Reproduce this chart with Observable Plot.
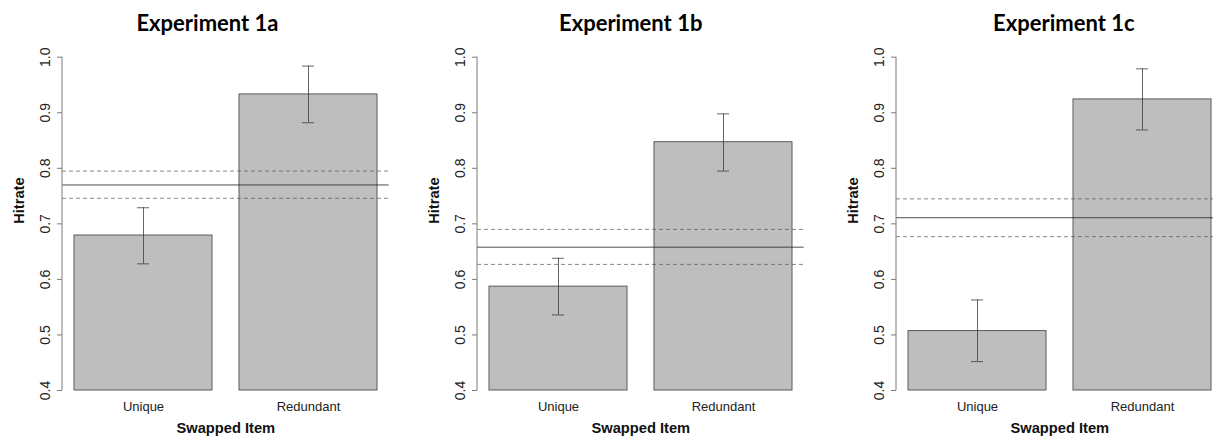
<!DOCTYPE html>
<html>
<head>
<meta charset="utf-8">
<script src="https://cdn.jsdelivr.net/npm/d3@7"></script>
<script src="https://cdn.jsdelivr.net/npm/@observablehq/plot@0.6"></script>
<style>
  html, body { margin: 0; padding: 0; background: #fff; }
  #wrap { position: relative; width: 1213px; height: 437px; overflow: hidden; background: #fff; }
  #wrap svg { position: absolute; top: 0; }
  #wrap svg g[aria-label="y-axis tick label"] text { font-size: 14px; }
  #wrap svg g[aria-label="x-axis tick label"] text { font-size: 13px; }
  .title { position: absolute; top: 9px; transform: translateX(-50%); font-family: Lato, "Open Sans", sans-serif; font-weight: 700; font-size: 22px; color: #000; white-space: nowrap; }
</style>
</head>
<body>
<div id="wrap"></div>
<script>
// ---- data ----
const experiments = ["Experiment 1a", "Experiment 1b", "Experiment 1c"];
const categories = ["Unique", "Redundant"];
const hitrateMean = [[0.679, 0.933], [0.587, 0.847], [0.507, 0.924]];
const hitrateLow  = [[0.628, 0.882], [0.536, 0.795], [0.452, 0.869]];
const hitrateHigh = [[0.729, 0.984], [0.638, 0.898], [0.563, 0.979]];
const referenceMean = [0.770, 0.658, 0.711];
const referenceLow  = [0.746, 0.627, 0.677];
const referenceHigh = [0.795, 0.690, 0.745];
const yTicks = [0.4, 0.5, 0.6, 0.7, 0.8, 0.9, 1.0];
const yLabel = "Hitrate";
const xLabel = "Swapped Item";

// ---- layout ----
const axisX = [61.7, 476.7, 896.3];
const titleX = [207.5, 630.7, 1063.8];
const plotW = 326.6;
const mLeft = 70, svgW = 440, H = 437, mTop = 56.7, mBottom = 47;
const padInner = 0.163, padOuter = 0.07;
const step = plotW / (categories.length - padInner + 2 * padOuter);
const bw = step * (1 - padInner);
const capW = 12.3;
const capInset = (bw - capW) / 2;

const wrap = document.getElementById("wrap");

experiments.forEach((name, p) => {
  const rows = categories.map((c, i) => ({
    cat: c, value: hitrateMean[p][i], lo: hitrateLow[p][i], hi: hitrateHigh[p][i]
  }));
  const yMin = yTicks[0], yMax = yTicks[yTicks.length - 1];
  const axisLine = (index, scales, values, dims) => {
    const l = document.createElementNS("http://www.w3.org/2000/svg", "line");
    l.setAttribute("x1", dims.marginLeft); l.setAttribute("x2", dims.marginLeft);
    l.setAttribute("y1", scales.y(yMin)); l.setAttribute("y2", scales.y(yMax));
    l.setAttribute("stroke", "#7a7a7a"); l.setAttribute("stroke-width", 1);
    return l;
  };
  const chart = Plot.plot({
    width: svgW, height: H,
    marginLeft: mLeft, marginRight: svgW - mLeft - plotW,
    marginTop: mTop, marginBottom: mBottom,
    style: { fontFamily: "'Liberation Sans', Arial, sans-serif", fontSize: "13px", background: "none", overflow: "visible", color: "#222" },
    x: { type: "band", domain: categories, paddingInner: padInner, paddingOuter: padOuter, align: 0.5, axis: null },
    y: { domain: [yMin, yMax], axis: null },
    marks: [
      Plot.barY(rows, { x: "cat", y1: () => yMin, y2: "value", fill: "#bebebe", stroke: "#5a5a5a", strokeWidth: 1 }),
      Plot.ruleY([referenceLow[p], referenceHigh[p]], { stroke: "#555", strokeOpacity: 0.7, strokeDasharray: "4,3", strokeWidth: 1 }),
      Plot.ruleY([referenceMean[p]], { stroke: "#222", strokeOpacity: 0.8, strokeWidth: 1 }),
      Plot.ruleX(rows, { x: "cat", y1: "lo", y2: "hi", stroke: "#333", strokeOpacity: 0.75, strokeWidth: 1 }),
      Plot.tickY(rows, { x: "cat", y: "lo", insetLeft: capInset, insetRight: capInset, stroke: "#333", strokeOpacity: 0.75 }),
      Plot.tickY(rows, { x: "cat", y: "hi", insetLeft: capInset, insetRight: capInset, stroke: "#333", strokeOpacity: 0.75 }),
      axisLine,
      Plot.axisY({ ticks: yTicks, tickSize: 5, tickRotate: -90, tickPadding: 8, stroke: "#7a7a7a", fill: "#222", fontSize: 14, tickFormat: d3.format(".1f"), label: null }),
      Plot.axisX({ tickSize: 0, tickPadding: 11, fontSize: 13, fill: "#222", label: null }),
      Plot.text([yLabel], { frameAnchor: "left", rotate: -90, dx: -43, fontWeight: "bold", fontSize: 14.7, fill: "#111" }),
      Plot.text([xLabel], { frameAnchor: "bottom", dy: 42, fontWeight: "bold", fontSize: 14.7, fill: "#111" })
    ]
  });
  chart.style.left = (axisX[p] - mLeft) + "px";
  wrap.appendChild(chart);
  const t = document.createElement("div");
  t.className = "title";
  t.textContent = name;
  t.style.left = titleX[p] + "px";
  wrap.appendChild(t);
});
</script>
</body>
</html>
